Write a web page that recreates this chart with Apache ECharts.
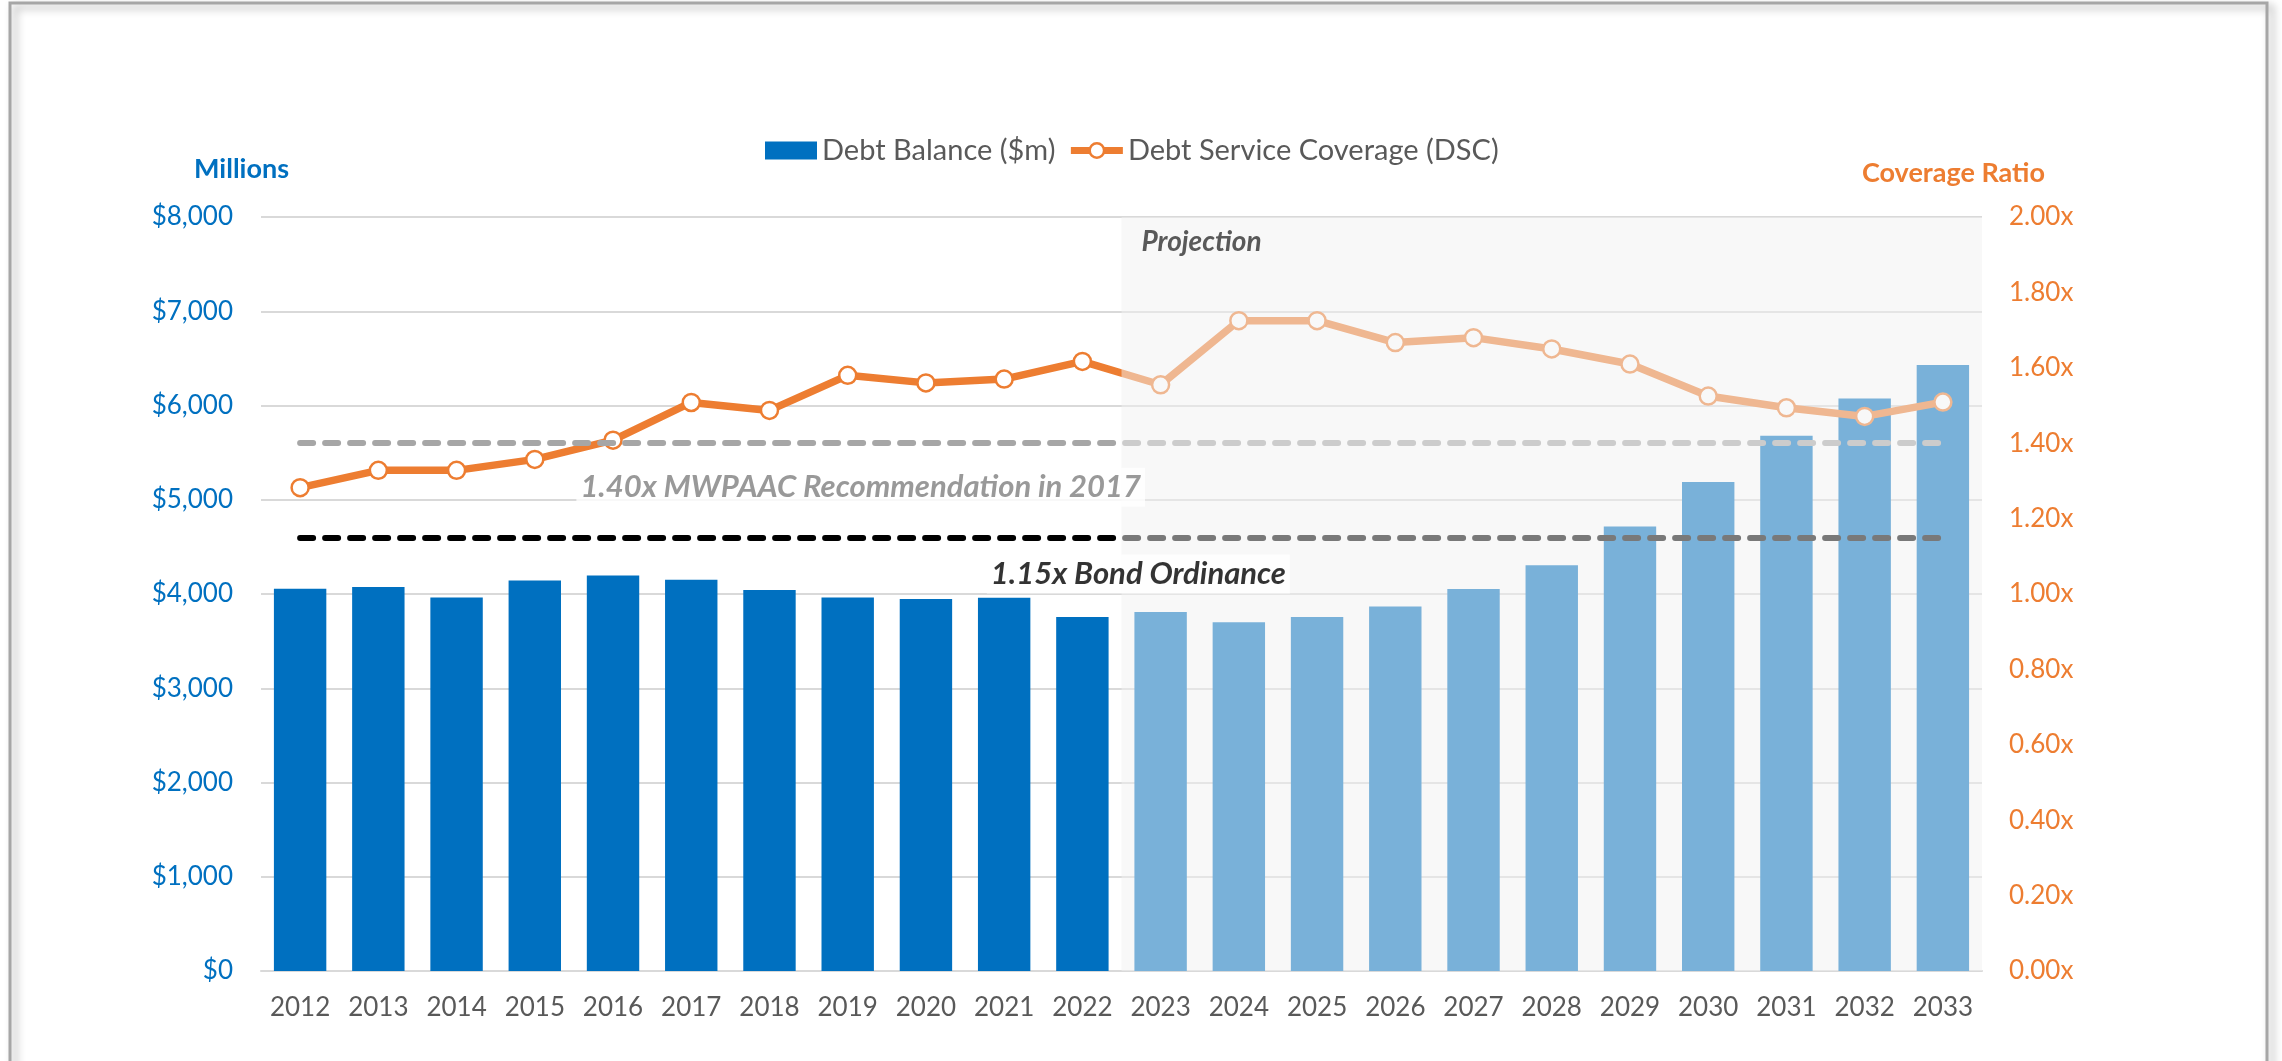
<!DOCTYPE html>
<html>
<head>
<meta charset="utf-8">
<title>Debt Balance and Debt Service Coverage</title>
<script src="https://cdn.jsdelivr.net/npm/echarts@6/dist/echarts.min.js"></script>
<style>
  html, body { margin: 0; padding: 0; background: #fff; }
  #main { width: 2282px; height: 1061px; }
</style>
</head>
<body>
<div id="main"></div>
<script>
// data
var years = ['2012', '2013', '2014', '2015', '2016', '2017', '2018', '2019', '2020', '2021', '2022',
             '2023', '2024', '2025', '2026', '2027', '2028', '2029', '2030', '2031', '2032', '2033'];
var debtBalance = [4055, 4073, 3964, 4142, 4195, 4150, 4043, 3962, 3947, 3961, 3755,
                   3808, 3701, 3755, 3868, 4054, 4304, 4715, 5189, 5678, 6075, 6429];
var dscRatio = [1.282, 1.328, 1.328, 1.357, 1.408, 1.508, 1.487, 1.580, 1.560, 1.570, 1.617,
                1.555, 1.725, 1.725, 1.667, 1.680, 1.650, 1.610, 1.525, 1.494, 1.471, 1.509];
var mwpaacRatio = 1.40;
var bondOrdinanceRatio = 1.15;
var projectionStart = '2023';

var FONT = 'Lato, Carlito, Calibri, sans-serif';

var myChart = echarts.init(document.getElementById('main'));

var option = {
    animation: false,
    backgroundColor: '#fff',
    textStyle: { fontFamily: FONT },
    graphic: [{
        type: 'rect',
        silent: true,
        z: -10,
        shape: { x: 10, y: 3, width: 2257, height: 1100 },
        style: {
            fill: 'none', stroke: '#A6A6A6', lineWidth: 3,
            shadowBlur: 8, shadowOffsetX: 5, shadowOffsetY: 4, shadowColor: 'rgba(0,0,0,0.35)'
        }
    }],
    title: [
        { text: 'Millions', left: 189, top: 151,
          textStyle: { fontFamily: FONT, fontSize: 27, fontWeight: 'bold', color: '#0070C0' } },
        { text: 'Coverage Ratio', right: 232, top: 155,
          textStyle: { fontFamily: FONT, fontSize: 27, fontWeight: 'bold', color: '#ED7D31' } }
    ],
    legend: {
        left: 760,
        top: 131,
        itemWidth: 52,
        itemHeight: 18,
        itemGap: 12,
        textStyle: { fontFamily: FONT, fontSize: 29, color: '#595959' },
        data: [
            { name: 'Debt Balance ($m)', icon: 'rect' },
            { name: 'Debt Service Coverage (DSC)',
              lineStyle: { width: 7, color: '#ED7D31' },
              itemStyle: { color: '#fff', borderColor: '#ED7D31', borderWidth: 2.5 } }
        ]
    },
    grid: { left: 261, right: 300, top: 217, bottom: 90, containLabel: false },
    xAxis: {
        type: 'category',
        data: years,
        axisLine: { lineStyle: { color: '#D9D9D9', width: 2 } },
        axisTick: { show: false },
        axisLabel: { color: '#595959', fontSize: 26, fontFamily: FONT, margin: 24, interval: 0 }
    },
    yAxis: [
        {
            type: 'value', min: 0, max: 8000, interval: 1000,
            axisLine: { show: false }, axisTick: { show: false },
            splitLine: { lineStyle: { color: '#D9D9D9', width: 2 } },
            axisLabel: {
                color: '#0070C0', fontSize: 26, fontFamily: FONT, margin: 28,
                formatter: function (v) { return '$' + v.toLocaleString('en-US'); }
            }
        },
        {
            type: 'value', min: 0, max: 2, interval: 0.2,
            axisLine: { show: false }, axisTick: { show: false },
            splitLine: { show: false },
            axisLabel: {
                color: '#ED7D31', fontSize: 26, fontFamily: FONT, margin: 27,
                formatter: function (v) { return v.toFixed(2) + 'x'; }
            }
        }
    ],
    series: [
        {
            name: 'Debt Balance ($m)',
            type: 'bar',
            data: debtBalance,
            barCategoryGap: '33%',
            itemStyle: { color: '#0070C0' },
            z: 2
        },
        {
            // reference levels
            name: 'refs',
            type: 'line',
            yAxisIndex: 1,
            data: [],
            z: 3,
            markLine: {
                silent: true,
                symbol: ['none', 'none'],
                label: { show: false },
                lineStyle: { type: [13, 12], width: 6, cap: 'round' },
                data: [
                    [{ coord: [years[0], mwpaacRatio], lineStyle: { color: '#A6A6A6' } },
                     { coord: [years[years.length - 1], mwpaacRatio] }],
                    [{ coord: [years[0], bondOrdinanceRatio], lineStyle: { color: '#000000' } },
                     { coord: [years[years.length - 1], bondOrdinanceRatio] }]
                ]
            }
        },
        {
            name: 'Debt Service Coverage (DSC)',
            type: 'line',
            yAxisIndex: 1,
            data: dscRatio,
            symbol: 'circle',
            symbolSize: 17,
            lineStyle: { color: '#ED7D31', width: 7.5 },
            itemStyle: { color: '#fff', borderColor: '#ED7D31', borderWidth: 2.5 },
            z: 4
        },
        {
            // projection band: a half-transparent wash over the forecast years
            name: 'projection',
            type: 'custom',
            silent: true,
            z: 5,
            data: [[years.indexOf(projectionStart)]],
            encode: { x: 0 },
            renderItem: function (params, api) {
                var cs = params.coordSys;
                var start = api.coord([api.value(0), 0]);
                var band = api.size([1, 0])[0];
                var x0 = start[0] - band / 2;
                return {
                    type: 'group',
                    children: [
                        {
                            type: 'rect',
                            shape: { x: x0, y: cs.y, width: cs.x + cs.width - x0, height: cs.height },
                            style: { fill: 'rgba(242,242,242,0.5)' }
                        },
                        {
                            type: 'text',
                            x: x0 + 20,
                            y: cs.y + 25,
                            style: {
                                text: 'Projection', fill: '#595959',
                                fontFamily: FONT, fontSize: 28, fontWeight: 'bold', fontStyle: 'italic',
                                verticalAlign: 'middle'
                            }
                        }
                    ]
                };
            }
        },
        {
            // text notes sitting on top of the wash
            name: 'notes',
            type: 'scatter',
            yAxisIndex: 1,
            silent: true,
            z: 6,
            symbolSize: 1,
            itemStyle: { color: 'rgba(0,0,0,0)' },
            label: {
                show: true,
                position: 'inside',
                fontFamily: FONT, fontSize: 31, fontWeight: 'bold', fontStyle: 'italic',
                backgroundColor: '#fff',
                padding: [4, 4, 4, 4],
                formatter: function (p) { return p.name; }
            },
            data: [
                { name: '1.40x MWPAAC Recommendation in 2017', value: ['2019', 1.283],
                  label: { color: '#7F7F7F', offset: [13, 0] } },
                { name: '1.15x Bond Ordinance', value: ['2022', 1.053],
                  label: { color: '#000000', offset: [56, 0] } }
            ]
        }
    ]
};

myChart.setOption(option);
</script>
</body>
</html>
